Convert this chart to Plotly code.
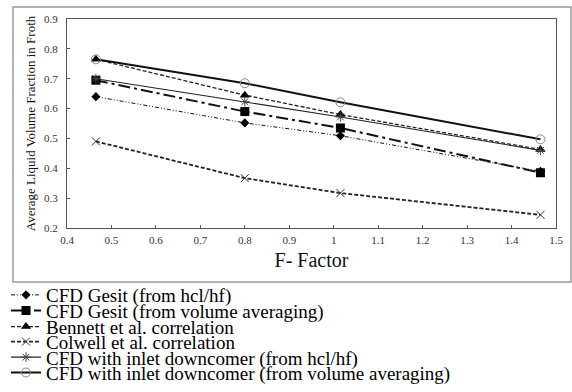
import plotly.graph_objects as go

# ---- data ----
f_factor = [0.465, 0.8, 1.015, 1.465]
gesit_hcl = [0.64, 0.552, 0.509, 0.39]
gesit_vol = [0.695, 0.59, 0.535, 0.385]
bennett = [0.765, 0.645, 0.58, 0.463]
colwell = [0.49, 0.367, 0.317, 0.244]
inlet_hcl = [0.70, 0.623, 0.572, 0.46]
inlet_vol = [0.765, 0.685, 0.621, 0.497]

names = [
    "CFD Gesit (from hcl/hf)",
    "CFD Gesit (from volume averaging)",
    "Bennett et al. correlation",
    "Colwell et al. correlation",
    "CFD with inlet downcomer (from hcl/hf)",
    "CFD with inlet downcomer (from volume averaging)",
]
x_ticks = [0.4, 0.5, 0.6, 0.7, 0.8, 0.9, 1, 1.1, 1.2, 1.3, 1.4, 1.5]
y_ticks = [0.2, 0.3, 0.4, 0.5, 0.6, 0.7, 0.8, 0.9]

SERIF = "Liberation Serif"

series = [gesit_hcl, gesit_vol, bennett, colwell, inlet_hcl, inlet_vol]
styles = [
    dict(line=dict(color="#111", width=1, dash="4px,2px,1px,2px,1px,2px"),
         marker=dict(symbol="diamond", size=7, color="#000")),
    dict(line=dict(color="#111", width=2, dash="12px,4px,3px,4px"),
         marker=dict(symbol="square", size=9, color="#000")),
    dict(line=dict(color="#222", width=1.3, dash="4px,2px"),
         marker=dict(symbol="triangle-up", size=9, color="#000")),
    dict(line=dict(color="#222", width=1.8, dash="4px,2px"),
         marker=dict(symbol="x-thin-open", size=8, color="#333", line=dict(width=1, color="#333"))),
    dict(line=dict(color="#222", width=1.1),
         marker=dict(symbol="asterisk-open", size=8, color="#444", line=dict(width=1, color="#444"))),
    dict(line=dict(color="#111", width=2),
         marker=dict(symbol="circle-open", size=9, color="#888", line=dict(width=1, color="#888"))),
]

W, H = 572, 392
L, R, T, B = 67, 16, 19, 164
pw, ph = W - L - R, H - T - B

def px_x(xp):
    return (xp - L) / pw

def px_y(yp):
    return (H - B - yp) / ph

legend_rows = [295, 310.7, 326.7, 341.7, 357.3, 372.7]

fig = go.Figure()
for i, (name, ys, st) in enumerate(zip(names, series, styles)):
    key = "legend" if i == 0 else f"legend{i+1}"
    fig.add_trace(go.Scatter(x=f_factor, y=ys, name=name, mode="lines+markers",
                             line=st["line"], marker=st["marker"], legend=key))
    fig.update_layout(**{key: dict(
        x=px_x(6), y=px_y(legend_rows[i]), xanchor="left", yanchor="middle",
        font=dict(family=SERIF, size=19, color="#000"),
        bgcolor="rgba(0,0,0,0)", borderwidth=0, itemwidth=30,
    )})

fig.update_layout(
    width=W, height=H,
    margin=dict(l=L, r=R, t=T, b=B, pad=0, autoexpand=False),
    paper_bgcolor="white", plot_bgcolor="white",
    showlegend=True,
    font=dict(family=SERIF, color="#222"),
    xaxis=dict(range=[0.4, 1.5], tickvals=x_ticks,
               ticktext=[("%g" % v) for v in x_ticks],
               ticks="inside", ticklen=3, tickcolor="#555",
               showline=True, linecolor="#555", linewidth=1.3, mirror=True,
               showgrid=False, zeroline=False, ticklabelstandoff=2,
               tickfont=dict(family=SERIF, size=11, color="#333"),
               title=dict(text="F- Factor", standoff=7,
                          font=dict(family=SERIF, size=20, color="#111"))),
    yaxis=dict(range=[0.2, 0.9], tickvals=y_ticks,
               ticktext=[("%.1f" % v) for v in y_ticks],
               ticks="inside", ticklen=3, tickcolor="#555",
               showline=True, linecolor="#555", linewidth=1.3, mirror=True,
               showgrid=False, zeroline=False, ticklabelstandoff=6,
               tickfont=dict(family=SERIF, size=11, color="#333"),
               title=dict(text="Average Liquid Volume Fraction in Froth", standoff=5,
                          font=dict(family=SERIF, size=13, color="#111"))),
)

# outer chart border
fig.add_shape(type="rect", xref="paper", yref="paper",
              x0=px_x(13), x1=px_x(571), y0=px_y(282), y1=px_y(7),
              line=dict(color="#999", width=1.5), layer="below")

fig.write_html("out.html")
